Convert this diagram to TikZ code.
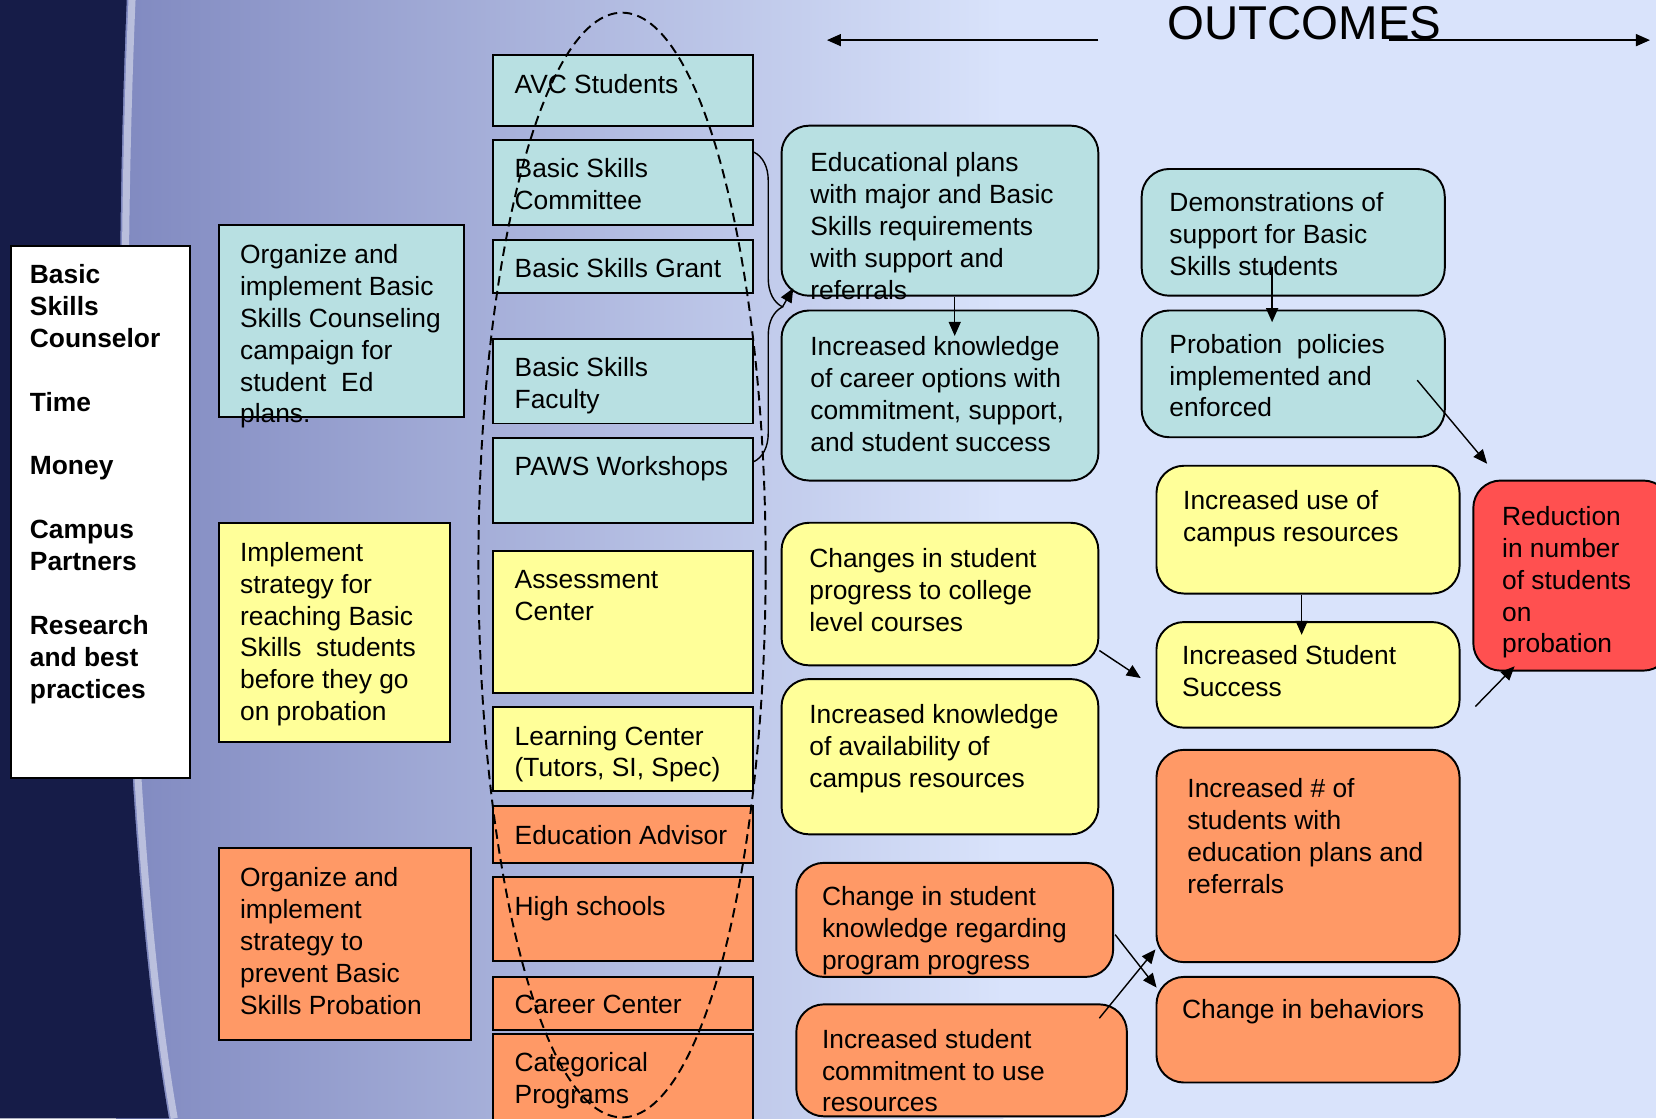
\documentclass[tikz,border=0pt]{standalone}
\usepackage{fontspec}
\setmainfont{Liberation Sans}
\usetikzlibrary{arrows.meta,calc,fit,decorations.pathreplacing}

\definecolor{bgblue}{RGB}{217,227,251}
\definecolor{bgmid}{RGB}{128,137,192}
\definecolor{navy}{RGB}{22,28,72}
\definecolor{tealfill}{RGB}{184,224,226}
\definecolor{yellowfill}{RGB}{255,255,153}
\definecolor{orangefill}{RGB}{255,153,102}
\definecolor{redfill}{RGB}{255,80,80}

\tikzset{
  sqbox/.style={draw=black, line width=1.1pt, inner sep=0pt},
  rbox/.style={sqbox, rounded corners=0.55cm},
  txt/.style={anchor=north west, inner sep=0pt, align=left, font=\fontsize{15}{18.15}\selectfont},
  boldtxt/.style={txt, font=\fontsize{15}{18.15}\selectfont\bfseries},
  arr/.style={line width=0.8pt, -{Triangle[length=0.28cm,width=0.24cm]}},
  dashring/.style={line width=1.1pt, dash pattern=on 0.19cm off 0.11cm},
}

\begin{document}
\begin{tikzpicture}[x=0.02112cm, y=-0.02112cm]
        \useasboundingbox (0,0) rectangle (1568,1059);

        % background
        \fill[bgblue] (0,0) rectangle (1568,1059);
        \shade[left color=bgmid, right color=bgblue] (110,0) rectangle (950,1059);
        \fill[navy] (0,0) -- (120,0) .. controls (105,350) and (115,800) .. (160,1059) -- (0,1059) -- cycle;
        \draw[white, opacity=0.45, line width=4pt] (125,0) .. controls (110,350) and (120,800) .. (165,1059);

        % inputs
        \node[sqbox, fill=white, fit={(10,233) (180,737)}] (inputs) {};
        \node[boldtxt] (inputs-t) at (28,250) {Basic\\Skills\\Counselor\\[18.15pt]Time\\[18.15pt]Money\\[18.15pt]Campus\\Partners\\[18.15pt]Research\\and best\\practices};

        % strategies
        \node[sqbox, fill=tealfill, fit={(207,213) (439,395)}] (org) {};
        \node[txt] (org-t) at (227,231) {Organize and\\implement Basic\\Skills Counseling\\campaign for\\student~ Ed\\plans.};
        \node[sqbox, fill=yellowfill, fit={(207,495) (426,703)}] (reach) {};
        \node[txt] (reach-t) at (227,513) {Implement\\strategy for\\reaching Basic\\Skills~ students\\before they go\\on probation};
        \node[sqbox, fill=orangefill, fit={(207,803) (446,985)}] (prevent) {};
        \node[txt] (prevent-t) at (227,821) {Organize and\\implement\\strategy to\\prevent Basic\\Skills Probation};

        % resources
        \node[sqbox, fill=tealfill, fit={(467,52) (713,119)}] (avc) {};
        \node[txt] (avc-t) at (487,70) {AVC Students};
        \node[sqbox, fill=tealfill, fit={(467,133) (713,213)}] (bsc) {};
        \node[txt] (bsc-t) at (487,150) {Basic Skills\\Committee};
        \node[sqbox, fill=tealfill, fit={(467,227) (713,277)}] (bsg) {};
        \node[txt] (bsg-t) at (487,244) {Basic Skills Grant};
        \node[sqbox, fill=tealfill, fit={(467,321) (713,401)}] (bsf) {};
        \node[txt] (bsf-t) at (487,338) {Basic Skills\\Faculty};
        \node[sqbox, fill=tealfill, fit={(467,415) (713,495)}] (paws) {};
        \node[txt] (paws-t) at (487,432) {PAWS Workshops};
        \node[sqbox, fill=yellowfill, fit={(467,522) (713,656)}] (assess) {};
        \node[txt] (assess-t) at (487,540) {Assessment\\Center};
        \node[sqbox, fill=yellowfill, fit={(467,669) (713,749)}] (learn) {};
        \node[txt] (learn-t) at (487,687) {Learning Center\\(Tutors, SI, Spec)};
        \node[sqbox, fill=orangefill, fit={(467,763) (713,817)}] (advisor) {};
        \node[txt] (advisor-t) at (487,781) {Education Advisor};
        \node[sqbox, fill=orangefill, fit={(467,830) (713,910)}] (high) {};
        \node[txt] (high-t) at (487,848) {High schools};
        \node[sqbox, fill=orangefill, fit={(467,925) (713,975)}] (career) {};
        \node[txt] (career-t) at (487,942) {Career Center};
        \node[sqbox, fill=orangefill, fit={(467,979) (713,1075)}] (categ) {};
        \node[txt] (categ-t) at (487,996) {Categorical\\Programs};

        \draw[dashring] (589,535) ellipse [x radius=136, y radius=523];
        \draw[line width=0.8pt, decorate, decoration={brace, amplitude=0.57cm}] ($(bsc.north east)+(0,12)$) -- ($(paws.north east)+(0,23)$);
        \coordinate (btip) at ($(bsc.north east)!0.5!(paws.north east)+(27,17.5)$);

        % short term outcomes
        \node[rbox, fill=tealfill, fit={(740,119) (1040,280)}] (edplans) {};
        \node[txt] (edplans-t) at (767,144) {Educational plans\\with major and Basic\\Skills requirements\\with support and\\referrals};
        \node[rbox, fill=tealfill, fit={(740,294) (1040,455)}] (career-k) {};
        \node[txt] (career-k-t) at (767,318) {Increased knowledge\\of career options with\\commitment, support,\\and student success};
        \node[rbox, fill=yellowfill, fit={(740,495) (1040,630)}] (progress) {};
        \node[txt] (progress-t) at (766,519) {Changes in student\\progress to college\\level courses};
        \node[rbox, fill=yellowfill, fit={(740,643) (1040,790)}] (avail) {};
        \node[txt] (avail-t) at (766,667) {Increased knowledge\\of availability of\\campus resources};
        \node[rbox, fill=orangefill, fit={(754,817) (1054,925)}] (prog-k) {};
        \node[txt] (prog-k-t) at (778,839) {Change in student\\knowledge regarding\\program progress};
        \node[rbox, fill=orangefill, fit={(754,951) (1067,1057)}] (commit) {};
        \node[txt] (commit-t) at (778,974) {Increased student\\commitment to use\\resources};

        % long term outcomes
        \node[rbox, fill=tealfill, fit={(1081,160) (1368,280)}] (demo) {};
        \node[txt] (demo-t) at (1107,182) {Demonstrations of\\support for Basic\\Skills students};
        \node[rbox, fill=tealfill, fit={(1081,294) (1368,414)}] (policy) {};
        \node[txt] (policy-t) at (1107,316) {Probation~ policies\\implemented and\\enforced};
        \node[rbox, fill=yellowfill, fit={(1095,441) (1382,562)}] (use) {};
        \node[txt] (use-t) at (1120,464) {Increased use of\\campus resources};
        \node[rbox, fill=yellowfill, fit={(1095,589) (1382,689)}] (success) {};
        \node[txt] (success-t) at (1119,611) {Increased Student\\Success};
        \node[rbox, fill=orangefill, fit={(1095,710) (1382,911)}] (withplans) {};
        \node[txt] (withplans-t) at (1124,737) {Increased \# of\\students with\\education plans and\\referrals};
        \node[rbox, fill=orangefill, fit={(1095,925) (1382,1025)}] (behave) {};
        \node[txt] (behave-t) at (1119,946) {Change in behaviors};
        \node[rbox, fill=redfill, fit={(1395,455) (1582,635)}] (reduce) {};
        \node[txt] (reduce-t) at (1422,479) {Reduction\\in number\\of students\\on\\probation};

        % connectors
        \draw[arr] (btip) -- ($(edplans.south west)+(12,-8)$);
        \draw[arr] ($(edplans.south)+(14,0)$) -- ($(career-k.north)+(14,25)$);
        \draw[arr] ($(demo.south)+(-20,-28)$) -- ($(policy.north)+(-20,12)$);
        \draw[arr] ($(policy.east)+(-27,6)$) -- ($(reduce.north west)+(14,-15)$);
        \draw[arr] ($(use.south)+(-6,0)$) -- ($(success.north)+(-6,13)$);
        \draw[arr] ($(progress.south east)+(0,-15)$) -- ($(success.west)+(-14,3)$);
        \draw[arr] ($(success.east)+(14,30)$) -- ($(reduce.south west)+(40,-5)$);
        \draw[arr] ($(prog-k.east)+(1,14)$) -- ($(behave.north west)+(1,11)$);
        \draw[arr] ($(commit.north east)+(-27,14)$) -- ($(withplans.south west)+(0,-13)$);

        % title
        \node[anchor=base west, inner sep=0pt, font=\fontsize{27}{32}\selectfont] (title) at (1105,37) {OUTCOMES};
        \draw[arr] ($(title.base west)+(-65,1)$) -- ($(title.base west)+(-322,1)$);
        \draw[arr] ($(title.base east)+(-50,1)$) -- ($(title.base east)+(197,1)$);
\end{tikzpicture}
\end{document}
